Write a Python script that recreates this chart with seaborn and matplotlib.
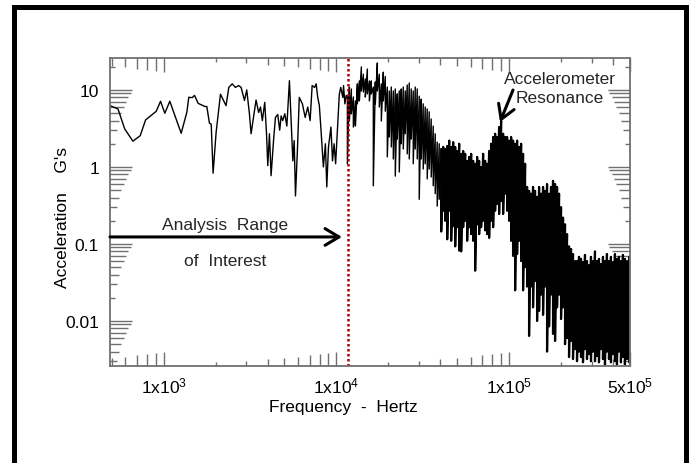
import numpy as np
import matplotlib
matplotlib.use("Agg")
import matplotlib.pyplot as plt
import seaborn as sns
from matplotlib.ticker import LogLocator, NullFormatter
from matplotlib.patches import Rectangle

# ---------------------------
# Data
# ---------------------------
# sparse low-frequency part (Hz, G's)
low_freq_hz = [492, 545, 596, 665, 733, 787, 907, 961, 1017, 1087,
               1265, 1364, 1400, 1465, 1510, 1586, 1733, 1780, 1843, 1887,
               1935, 2015, 2135, 2300, 2385, 2495, 2605, 2720, 2810, 2940,
               3030, 3140, 3210, 3350, 3430, 3550, 3640, 3730, 3850, 3940,
               4010, 4100, 4190, 4330, 4440, 4580, 4700, 4790, 4890, 5030,
               5170, 5350, 5470, 5600, 5700, 5800, 5960, 6100, 6360, 6600,
               6830, 7050, 7240, 7480, 7640, 7800, 7970, 8150, 8410, 8640,
               8800, 9000, 9300, 9500, 9700, 9900, 10200, 10400, 10600, 10900,
               11000, 11200, 11400]
low_accel_g = [6.25, 5.67, 3.12, 2.16, 2.55, 4.08, 5.28, 7.13, 4.98, 7.13,
               2.74, 5.13, 8.03, 7.95, 8.5, 6.7, 6.1, 6.1, 3.7, 3.6,
               0.83, 2.82, 8.8, 6.25, 10.8, 12, 10.8, 11.4, 10.8, 7.3,
               10, 4.9, 2.7, 5.1, 7.4, 5.1, 6, 4, 6.9, 2.8,
               1.04, 2.7, 0.77, 2.2, 4.4, 4.8, 3, 4.6, 4, 4.9,
               3.4, 13.2, 4, 1.2, 2.2, 0.42, 1.8, 8, 6.6, 4.4,
               6, 4, 11.4, 10.8, 12, 8, 6.3, 3, 1, 2,
               0.55, 1.8, 3.3, 1.2, 2, 1.1, 4, 8.8, 10.8, 8,
               11.4, 6.6, 8.5]

# dense high-frequency part: per frequency a peak and a dip (kHz, G's)
dense_freq_khz = [11.58, 11.89, 12.21, 12.54, 12.88, 13.23, 13.58, 13.95, 14.33, 14.71,
                  15.11, 15.52, 15.93, 16.36, 16.80, 17.26, 17.72, 18.20, 18.69, 19.19,
                  19.71, 20.24, 20.79, 21.35, 21.92, 22.51, 23.12, 23.74, 24.38, 25.04,
                  25.71, 26.41, 27.12, 27.85, 28.60, 29.37, 30.16, 30.98, 31.81, 32.67,
                  33.55, 34.45, 35.38, 36.34, 37.32, 38.32, 39.36, 40.42, 41.51, 42.63,
                  43.78, 44.96, 46.17, 47.41, 48.69, 50.00, 51.35, 52.73, 54.16, 55.62,
                  57.11, 58.65, 60.24, 61.86, 63.53, 65.24, 67.00, 68.81, 70.66, 72.57,
                  74.52, 76.53, 78.60, 80.72, 82.89, 85.13, 87.42, 89.78, 92.20, 94.69,
                  97.24, 99.86, 102.6, 105.3, 108.2, 111.1, 114.1, 117.2, 120.3, 123.6,
                  126.9, 130.3, 133.8, 137.4, 141.1, 145.0, 148.9, 152.9, 157.0, 161.2,
                  165.6, 170.1, 174.6, 179.3, 184.2, 189.2, 194.3, 199.5, 204.9, 210.4,
                  216.1, 221.9, 227.9, 234.0, 240.3, 246.8, 253.5, 260.3, 267.3, 274.5,
                  281.9, 289.5, 297.3, 305.3, 313.6, 322.0, 330.7, 339.6, 348.8, 358.2,
                  367.8, 377.8, 387.9, 398.4, 409.1, 420.2, 431.5, 443.1, 455.1, 467.3,
                  479.9, 495.0]
dense_peak_g = [8.1, 10.9, 10.3, 8.1, 7.2, 12, 13.1, 19.9, 16, 13.9,
                18.7, 13.1, 13.1, 10.9, 12.7, 22.4, 16, 12, 17, 15,
                10.9, 9.7, 10.9, 9.7, 10.3, 8.9, 9.7, 10.3, 10.9, 9.7,
                11.6, 12.3, 10.3, 9.7, 10.9, 10.3, 8.3, 7.6, 6.6, 6.0,
                5.66, 5.2, 4.2, 3.4, 2.7, 2.1, 2.0, 1.71, 1.82, 1.71,
                1.87, 2.2, 1.82, 2.1, 1.82, 1.61, 2.0, 1.48, 1.61, 1.48,
                1.2, 1.35, 1.48, 1.2, 1.1, 1.35, 1.2, 1.0, 1.48, 1.2,
                1.1, 1.61, 2.0, 2.45, 2.7, 2.45, 3.3, 3.95, 2.7, 2.45,
                2.45, 2.2, 2.45, 2.2, 2.0, 2.2, 1.82, 2.0, 1.48, 1.1,
                0.55, 0.49, 0.45, 0.55, 0.49, 0.41, 0.55, 0.45, 0.55, 0.49,
                0.6, 0.45, 0.55, 0.66, 0.6, 0.55, 0.45, 0.3, 0.22, 0.18,
                0.134, 0.093, 0.086, 0.074, 0.06, 0.06, 0.068, 0.064, 0.058, 0.072,
                0.06, 0.053, 0.068, 0.06, 0.08, 0.06, 0.064, 0.055, 0.068, 0.06,
                0.074, 0.06, 0.068, 0.058, 0.074, 0.064, 0.068, 0.06, 0.072, 0.064,
                0.06, 0.068]
dense_dip_g = [1.1, 3.95, 4.9, 3.3, 3.4, 6.6, 7.2, 9.7, 9.4, 8.1,
               8.9, 7.2, 8.9, 0.57, 6.6, 9.7, 6.0, 3.95, 7.2, 5.3,
               1.35, 2.45, 1.82, 1.27, 0.76, 2.3, 0.86, 2.0, 1.71, 2.7,
               1.48, 1.27, 2.3, 1.1, 1.71, 1.27, 0.38, 1.27, 0.94, 1.1,
               0.7, 0.94, 0.74, 0.57, 0.45, 0.31, 0.38, 0.145, 0.27, 0.2,
               0.115, 0.27, 0.11, 0.17, 0.093, 0.165, 0.082, 0.08, 0.165, 0.2,
               0.11, 0.165, 0.134, 0.11, 0.045, 0.18, 0.134, 0.165, 0.2, 0.15,
               0.134, 0.12, 0.2, 0.165, 0.27, 0.33, 0.245, 0.36, 0.245, 0.45,
               0.27, 0.2, 0.11, 0.07, 0.025, 0.074, 0.11, 0.06, 0.025, 0.05,
               0.028, 0.0064, 0.028, 0.015, 0.033, 0.01, 0.0135, 0.022, 0.012, 0.028,
               0.004, 0.0085, 0.022, 0.0068, 0.0055, 0.015, 0.022, 0.0106, 0.015, 0.005,
               0.006, 0.0034, 0.0055, 0.0032, 0.0043, 0.003, 0.004, 0.0034, 0.0029, 0.0043,
               0.0032, 0.0037, 0.003, 0.004, 0.003, 0.0035, 0.0029, 0.0043, 0.0032, 0.0027,
               0.004, 0.0032, 0.0029, 0.0037, 0.003, 0.0027, 0.004, 0.0029, 0.0034, 0.0027,
               0.0032, 0.0029]

x_ticks = [1e3, 1e4, 1e5, 5e5]
x_tick_labels = [r"1x10$^{3}$", r"1x10$^{4}$", r"1x10$^{5}$", r"5x10$^{5}$"]
y_ticks = [0.01, 0.1, 1, 10]
y_tick_labels = ["0.01", "0.1", "1", "10"]
analysis_limit_hz = 11600
solid_from_hz = 40000   # above this the trace is packed solid black

# ---------------------------
# Style
# ---------------------------
sns.set_theme(style="ticks")
plt.rcParams["font.family"] = ["Liberation Sans", "DejaVu Sans"]
plt.rcParams["mathtext.fontset"] = "custom"
plt.rcParams["mathtext.rm"] = "Liberation Sans"
plt.rcParams["mathtext.it"] = "Liberation Sans:italic"
plt.rcParams["mathtext.bf"] = "Liberation Sans:bold"
FS = 12.5
GREY = "#707070"

fig = plt.figure(figsize=(6.9, 4.64), dpi=100)
ax = fig.add_axes([110 / 690, 1 - 367 / 464, 520 / 690, 308 / 464])
ax.set_xscale("log")
ax.set_yscale("log")

# sparse part, then dense part drawn as peak/dip pairs
dense_x = np.repeat(np.array(dense_freq_khz) * 1000.0, 2)
dense_y = np.column_stack([dense_peak_g, dense_dip_g]).ravel()
freq = np.concatenate([low_freq_hz, dense_x])
accel = np.concatenate([low_accel_g, dense_y])
sns.lineplot(x=freq, y=accel, estimator=None, sort=False, color="black", lw=1.0, ax=ax)
# heavier stroke where the spectrum is packed solid
solid = dense_x >= solid_from_hz
sns.lineplot(x=dense_x[solid], y=dense_y[solid], estimator=None, sort=False,
             color="black", lw=1.6, ax=ax)

ax.axvline(analysis_limit_hz, color="#b00000", lw=1.8, ls=(0, (1, 1)))

ax.set_xlim(490, 5e5)
ax.set_ylim(0.0026, 26)
ax.set_xticks(x_ticks, x_tick_labels)
ax.set_yticks(y_ticks, y_tick_labels)
for axis in (ax.xaxis, ax.yaxis):
    axis.set_minor_locator(LogLocator(base=10, subs=np.arange(2, 10), numticks=100))
    axis.set_minor_formatter(NullFormatter())
ax.tick_params(which="both", direction="in", top=True, right=True, color=GREY,
               width=1.0, labelsize=FS, labelcolor="black")
ax.tick_params(axis="x", which="major", pad=7)
ax.tick_params(axis="y", which="major", pad=8)
for s in ax.spines.values():
    s.set_color(GREY)
    s.set_linewidth(1.3)

ax.set_xlabel("Frequency  -  Hertz", fontsize=FS, color="black")
ax.xaxis.set_label_coords(0.448, -0.107)
ax.set_ylabel("Acceleration    G's", fontsize=FS, color="black")
ax.yaxis.set_label_coords(-0.077, 0.487)

arrow_kw = dict(arrowstyle="->,head_length=0.5,head_width=0.3", lw=2.2, color="black",
                shrinkA=0, shrinkB=0, mutation_scale=20)
ax.annotate("", xy=(0.446, 0.419), xytext=(0.0, 0.419), xycoords="axes fraction",
            textcoords="axes fraction", arrowprops=arrow_kw)
ax.text(0.221, 0.461, "Analysis  Range", transform=ax.transAxes, ha="center", va="center", fontsize=FS)
ax.text(0.221, 0.344, "of  Interest", transform=ax.transAxes, ha="center", va="center", fontsize=FS)

ax.annotate("", xy=(0.75, 0.792), xytext=(0.775, 0.896), xycoords="axes fraction",
            textcoords="axes fraction", arrowprops=arrow_kw)
ax.text(0.865, 0.932, "Accelerometer", transform=ax.transAxes, ha="center", va="center", fontsize=FS)
ax.text(0.865, 0.873, "Resonance", transform=ax.transAxes, ha="center", va="center", fontsize=FS)

# black frame round the whole picture (bottom edge runs off the canvas)
fig.add_artist(Rectangle((13.5 / 690, -0.05), (686 - 13.5) / 690, 1 - 8 / 464 + 0.05,
                         transform=fig.transFigure, fill=False, lw=3.6, ec="black"))

# tick lengths grow with the mantissa, like the original plot
fig.canvas.draw()
PX = 0.72
def mantissa(loc):
    return round(loc / 10 ** np.floor(np.log10(loc)))

for t in ax.yaxis.get_major_ticks():
    t.tick1line.set_markersize(22 * PX)
    t.tick2line.set_markersize(22 * PX)
for t in ax.yaxis.get_minor_ticks():
    size = 2.3 * mantissa(t.get_loc()) * PX
    t.tick1line.set_markersize(size)
    t.tick2line.set_markersize(size)
for t in ax.xaxis.get_major_ticks():
    t.tick1line.set_markersize(14 * PX)
    t.tick2line.set_markersize(14 * PX)
for t in ax.xaxis.get_minor_ticks():
    size = (1.3 * mantissa(t.get_loc()) + 1.5) * PX
    t.tick1line.set_markersize(size)
    t.tick2line.set_markersize(size)

fig.savefig("out.png", dpi=100)
